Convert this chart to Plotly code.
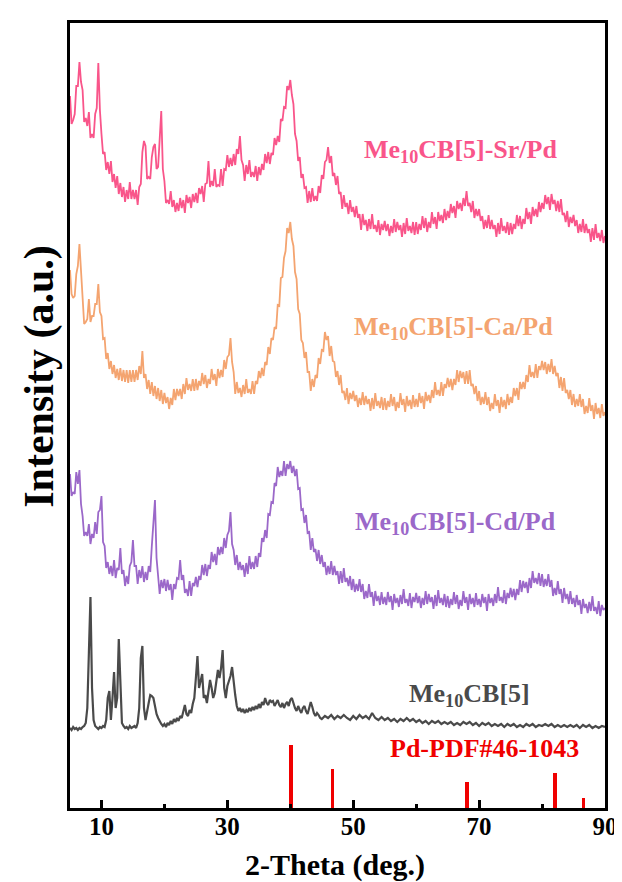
import numpy as np
import plotly.graph_objects as go

# ---------------- data ----------------
# 2-theta sampling grid (0.25 deg step) for the Pd-loaded samples
two_theta = np.arange(5.0, 90.001, 0.25)

sr_pd = [712, 684, 688, 694, 722, 722, 746, 726, 718, 686, 690, 682, 696, 670, 674, 670, 694, 700, 745, 698,
         674, 654, 656, 638, 646, 634, 647, 626, 634, 620, 632, 614, 625, 611, 621, 606, 618, 609, 626, 609,
         618, 609, 618, 603, 621, 624, 656, 667, 662, 629, 631, 629, 651, 661, 664, 639, 641, 672, 697, 639,
         627, 605, 608, 604, 617, 601, 608, 596, 605, 597, 610, 600, 608, 595, 613, 605, 611, 600, 614, 606,
         615, 605, 620, 614, 622, 606, 624, 625, 647, 621, 627, 622, 639, 621, 623, 622, 639, 622, 639, 638,
         653, 641, 650, 642, 654, 643, 659, 654, 672, 648, 643, 627, 643, 634, 648, 631, 636, 631, 642, 627,
         641, 633, 644, 638, 654, 645, 656, 644, 655, 653, 670, 663, 672, 666, 689, 687, 701, 700, 722, 718,
         728, 713, 704, 674, 667, 647, 651, 630, 634, 620, 621, 605, 617, 606, 620, 607, 612, 607, 622, 615,
         633, 629, 646, 648, 661, 645, 652, 632, 635, 623, 632, 614, 616, 599, 613, 601, 605, 594, 608, 596,
         601, 591, 602, 590, 594, 578, 594, 583, 588, 577, 589, 579, 594, 579, 583, 576, 588, 573, 584, 578,
         587, 577, 584, 572, 582, 575, 589, 576, 586, 578, 583, 571, 585, 574, 590, 577, 582, 575, 586, 573,
         586, 574, 584, 578, 592, 580, 590, 576, 586, 580, 596, 584, 591, 579, 596, 587, 593, 585, 599, 588,
         597, 590, 604, 595, 602, 590, 607, 599, 605, 597, 610, 602, 617, 602, 605, 596, 607, 590, 599, 592,
         599, 587, 592, 579, 588, 580, 593, 579, 588, 579, 583, 571, 585, 574, 590, 577, 582, 575, 586, 573,
         585, 574, 584, 579, 593, 582, 592, 579, 589, 584, 600, 589, 596, 584, 601, 592, 599, 591, 606, 596,
         605, 599, 613, 604, 611, 598, 614, 604, 608, 597, 607, 596, 609, 593, 595, 586, 597, 581, 591, 585,
         593, 582, 588, 575, 584, 576, 589, 575, 584, 575, 579, 566, 580, 568, 584, 570, 575, 567, 578, 565,
         572]

ca_pd = [538, 514, 510, 512, 534, 542, 564, 536, 508, 484, 486, 489, 509, 486, 492, 492, 504, 504, 524, 496,
         492, 469, 470, 449, 455, 439, 447, 434, 443, 430, 439, 428, 440, 427, 438, 426, 438, 425, 438, 426,
         438, 426, 438, 428, 442, 434, 457, 430, 434, 419, 428, 414, 426, 412, 422, 409, 420, 407, 418, 404,
         415, 405, 411, 399, 410, 403, 419, 408, 419, 412, 419, 409, 424, 414, 430, 418, 424, 417, 429, 417,
         429, 418, 427, 422, 435, 424, 433, 420, 429, 424, 439, 428, 434, 422, 439, 430, 438, 431, 448, 439,
         451, 453, 470, 446, 436, 414, 426, 415, 420, 411, 423, 414, 429, 415, 419, 414, 427, 414, 427, 424,
         437, 430, 440, 432, 446, 443, 461, 454, 470, 468, 481, 479, 503, 502, 530, 531, 550, 557, 580, 575,
         586, 569, 562, 536, 529, 499, 494, 468, 465, 450, 456, 436, 436, 417, 429, 421, 433, 430, 450, 444,
         458, 457, 476, 468, 472, 452, 462, 447, 446, 431, 437, 423, 433, 415, 417, 408, 420, 404, 415, 409,
         417, 407, 413, 401, 410, 403, 416, 403, 412, 404, 409, 397, 410, 399, 415, 402, 407, 400, 411, 398,
         410, 398, 407, 401, 414, 402, 411, 397, 406, 400, 415, 403, 409, 396, 412, 402, 408, 399, 413, 401,
         409, 401, 415, 405, 412, 399, 416, 407, 413, 405, 418, 410, 426, 413, 418, 412, 426, 412, 424, 420,
         430, 421, 429, 418, 429, 423, 438, 426, 437, 430, 436, 424, 437, 424, 438, 422, 424, 414, 422, 407,
         417, 403, 411, 404, 416, 403, 411, 397, 405, 399, 414, 402, 408, 395, 411, 401, 408, 399, 414, 403,
         411, 405, 420, 412, 420, 408, 426, 419, 426, 419, 433, 426, 443, 431, 436, 430, 444, 430, 442, 438,
         447, 438, 446, 434, 444, 436, 449, 434, 442, 432, 435, 420, 431, 417, 430, 415, 418, 409, 418, 403,
         414, 401, 409, 402, 414, 401, 409, 394, 402, 395, 410, 397, 403, 389, 405, 394, 400, 390, 404, 392,
         396]

cd_pd = [334, 312, 316, 314, 336, 324, 338, 304, 292, 272, 276, 272, 284, 264, 274, 270, 286, 274, 296, 298,
         312, 266, 262, 240, 246, 234, 242, 232, 248, 230, 240, 238, 260, 234, 238, 222, 232, 224, 242, 246,
         268, 242, 242, 224, 238, 230, 242, 226, 236, 228, 242, 236, 262, 284, 308, 250, 232, 214, 228, 220,
         229, 217, 228, 218, 224, 208, 224, 219, 230, 229, 248, 228, 233, 215, 219, 212, 227, 212, 225, 222,
         231, 221, 232, 228, 243, 233, 244, 232, 243, 239, 256, 246, 254, 243, 261, 253, 261, 254, 270, 260,
         273, 277, 296, 264, 258, 243, 253, 238, 246, 238, 243, 231, 245, 234, 252, 239, 246, 239, 252, 241,
         255, 251, 270, 266, 278, 270, 294, 293, 306, 305, 325, 322, 341, 331, 337, 332, 347, 332, 344, 339,
         347, 335, 342, 332, 339, 319, 320, 298, 299, 285, 293, 275, 276, 258, 270, 256, 259, 247, 258, 244,
         253, 241, 246, 233, 242, 234, 247, 233, 242, 233, 237, 224, 237, 225, 240, 226, 230, 222, 232, 218,
         229, 216, 224, 217, 229, 216, 224, 209, 217, 210, 224, 211, 216, 202, 217, 207, 212, 203, 216, 204,
         211, 203, 216, 206, 212, 198, 214, 205, 210, 201, 213, 204, 219, 205, 209, 202, 215, 200, 211, 206,
         215, 205, 212, 200, 210, 203, 217, 204, 214, 206, 211, 199, 213, 202, 218, 205, 210, 203, 214, 201,
         212, 200, 209, 203, 216, 204, 213, 199, 208, 202, 217, 205, 211, 198, 214, 204, 210, 201, 215, 203,
         209, 201, 214, 205, 211, 197, 214, 205, 210, 202, 214, 205, 221, 207, 211, 205, 218, 204, 215, 210,
         220, 211, 219, 208, 219, 213, 228, 216, 227, 220, 226, 215, 230, 220, 237, 225, 230, 224, 235, 222,
         234, 221, 229, 222, 234, 221, 228, 212, 220, 213, 227, 214, 219, 205, 220, 209, 214, 204, 217, 204,
         210, 201, 213, 203, 208, 194, 209, 200, 204, 195, 206, 197, 212, 197, 201, 194, 207, 192, 203, 198,
         200]

# Me10CB[5]: 0.25 deg step below 45 deg, 0.5 deg step above
two_theta_cb = np.concatenate([np.arange(5.0, 44.8, 0.25), np.arange(45.0, 90.01, 0.5)])
cb5 = [80, 78, 81, 79, 80, 78, 80, 79, 81, 82, 85, 100, 155, 211, 120, 88, 82, 80, 79, 81,
       80, 82, 81, 88, 110, 117, 88, 110, 136, 100, 110, 169, 120, 85, 82, 80, 81, 79, 82, 80,
       81, 82, 80, 85, 100, 150, 162, 100, 88, 95, 105, 113, 112, 110, 100, 94, 90, 86, 84, 82,
       84, 81, 85, 83, 87, 84, 89, 86, 90, 87, 92, 90, 96, 103, 94, 92, 98, 95, 104, 110,
       130, 152, 120, 128, 134, 110, 113, 105, 115, 128, 120, 110, 115, 125, 138, 130, 140, 158, 120, 110,
       122, 127, 132, 141, 125, 113, 102, 97, 100, 96, 99, 95, 98, 96, 100, 97, 101, 98, 102, 99,
       104, 100, 106, 103, 110, 105, 103, 108, 106, 107, 102, 106, 108, 103, 101, 105, 100, 104, 106, 102,
       108, 110, 104, 100, 97, 102, 98, 95, 100, 102, 97, 94, 100, 106, 101, 95, 92, 95, 93, 90,
       89, 92, 90, 93, 89, 92, 90, 93, 90, 88,
       92, 89, 93, 90, 92, 89, 95, 90, 88, 91,
       88, 90, 87, 89, 86, 89, 87, 90, 87, 89,
       86, 88, 85, 87, 84, 87, 85, 87, 84, 86,
       84, 86, 83, 85, 83, 86, 84, 86, 83, 85,
       82, 85, 83, 85, 82, 84, 82, 84, 81, 84,
       82, 84, 81, 83, 81, 84, 82, 84, 81, 83,
       82, 84, 82, 84, 81, 83, 81, 83, 81, 83,
       81, 83, 80, 83, 81, 83, 80, 82, 80, 82,
       81]

# Pd reference pattern PDF#46-1043
pd_pos = [40.1, 46.7, 68.1, 82.1, 86.6]
pd_int = [63, 39, 26, 35, 10]

tick_vals = [10, 30, 50, 70, 90]
minor_vals = [20, 40, 60, 80]

series = [
    ("Me<sub>10</sub>CB[5]-Sr/Pd", two_theta, sr_pd, "#F9558A", 67.0, 657, 1.8),
    ("Me<sub>10</sub>CB[5]-Ca/Pd", two_theta, ca_pd, "#F4A470", 66.0, 480, 1.8),
    ("Me<sub>10</sub>CB[5]-Cd/Pd", two_theta, cd_pd, "#9B68C9", 66.2, 285, 1.8),
    ("Me<sub>10</sub>CB[5]", two_theta_cb, cb5, "#4A4A4A", 68.5, 113, 2.2),
]

FONT = "Liberation Serif"
RED = "#F00000"

fig = go.Figure()
for name, xs, ys, col, lx, ly, lw in series:
    fig.add_trace(go.Scatter(x=xs, y=ys, mode="lines", name=name,
                             line=dict(color=col, width=lw), showlegend=False))
    fig.add_annotation(x=lx, y=ly, text=name, showarrow=False,
                       font=dict(family=FONT, size=26, color=col, weight="bold"))

fig.add_trace(go.Bar(x=pd_pos, y=pd_int, width=0.6, marker=dict(color=RED, line_width=0),
                     showlegend=False))
fig.add_annotation(x=70.9, y=60, text="Pd-PDF#46-1043", showarrow=False,
                   font=dict(family=FONT, size=26, color=RED, weight="bold"))

# axis titles
fig.add_annotation(x=-0.057, y=0.55, xref="paper", yref="paper", text="Intensity (a.u.)",
                   textangle=-90, showarrow=False, xanchor="center", yanchor="middle",
                   font=dict(family=FONT, size=42, color="black", weight="bold"))
fig.add_annotation(x=0.495, y=-0.0725, xref="paper", yref="paper", text="2-Theta (deg.)",
                   showarrow=False, xanchor="center", yanchor="middle",
                   font=dict(family=FONT, size=30, color="black", weight="bold"))

fig.update_layout(
    width=622, height=882,
    margin=dict(l=62, r=18, t=15, b=82),
    paper_bgcolor="white", plot_bgcolor="white",
    font=dict(family=FONT, color="black"),
    bargap=0,
)
fig.update_xaxes(range=[5, 90], tickvals=tick_vals, ticks="inside", ticklen=8, tickwidth=3,
                 tickcolor="black",
                 minor=dict(tickvals=minor_vals, ticks="inside", ticklen=4, tickwidth=3,
                            tickcolor="black"),
                 showline=True, linewidth=3, linecolor="black", mirror=True, showgrid=False,
                 zeroline=False, ticklabelstandoff=-6,
                 tickfont=dict(family=FONT, size=25, color="black", weight="bold"))
fig.update_yaxes(range=[0, 785], showticklabels=False, ticks="", showline=True, linewidth=3,
                 linecolor="black", mirror=True, showgrid=False, zeroline=False)

fig.write_html("out.html")
